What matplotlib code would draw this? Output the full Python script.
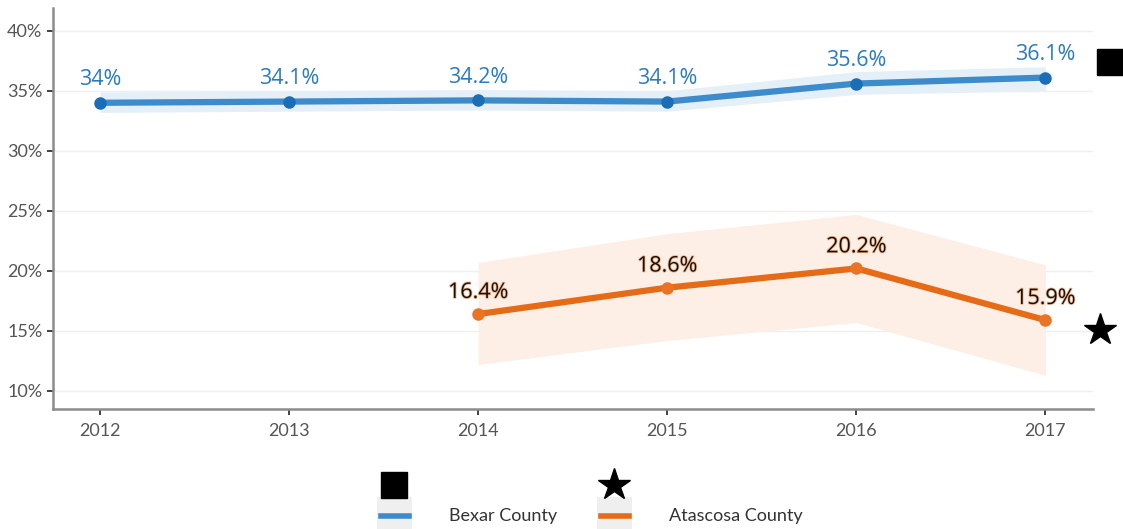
import matplotlib.pyplot as plt
import matplotlib.patheffects as pe
from matplotlib.lines import Line2D
from matplotlib.patches import Rectangle
from matplotlib.ticker import FuncFormatter

plt.rcParams['font.family'] = ['Lato', 'DejaVu Sans']

# Data
bexar_years = [2012, 2013, 2014, 2015, 2016, 2017]
bexar_vals = [34.0, 34.1, 34.2, 34.1, 35.6, 36.1]
bexar_lo = [33.2, 33.3, 33.4, 33.3, 34.7, 35.0]
bexar_hi = [34.9, 35.0, 35.1, 35.0, 36.6, 37.0]
bexar_labels = ["34%", "34.1%", "34.2%", "34.1%", "35.6%", "36.1%"]

atas_years = [2014, 2015, 2016, 2017]
atas_vals = [16.4, 18.6, 20.2, 15.9]
atas_lo = [12.2, 14.2, 15.7, 11.3]
atas_hi = [20.7, 23.1, 24.7, 20.5]
atas_labels = ["16.4%", "18.6%", "20.2%", "15.9%"]

y_ticks = [10, 15, 20, 25, 30, 35, 40]
bexar_marker_y = 37.4
atas_marker_y = 15.1

blue_line = "#3d8bcb"
blue_dot = "#1b6db5"
blue_text = "#2b7ac0"
blue_band = "#e4eff8"
orange_line = "#e56b17"
orange_dot = "#ea7425"
orange_band = "#fdeee6"

fig = plt.figure(figsize=(11.23, 5.29), dpi=100)
ax = fig.add_axes([0.047, 0.227, 0.926, 0.758])

# Bexar County
ax.fill_between(bexar_years, bexar_lo, bexar_hi, color=blue_band, lw=0, zorder=1)
ax.plot(bexar_years, bexar_vals, color=blue_line, lw=4.5, zorder=3, solid_capstyle='butt')
ax.plot(bexar_years, bexar_vals, 'o', color=blue_dot, ms=8, zorder=4)
for x, y, t in zip(bexar_years, bexar_vals, bexar_labels):
    ax.annotate(t, (x, y), xytext=(0, 9), textcoords='offset points',
                ha='center', va='bottom', fontsize=15.5, color=blue_text, zorder=5,
                family=['Open Sans', 'DejaVu Sans'])

# Atascosa County
ax.fill_between(atas_years, atas_lo, atas_hi, color=orange_band, lw=0, zorder=1)
ax.plot(atas_years, atas_vals, color=orange_line, lw=4.5, zorder=3, solid_capstyle='butt')
ax.plot(atas_years, atas_vals, 'o', color=orange_dot, ms=8, zorder=4)
for x, y, t in zip(atas_years, atas_vals, atas_labels):
    ax.annotate(t, (x, y), xytext=(0, 8), textcoords='offset points',
                ha='center', va='bottom', fontsize=15.5, color='#111111', zorder=5,
                family=['Open Sans', 'DejaVu Sans'],
                path_effects=[pe.withStroke(linewidth=1.2, foreground='#f5b486')])

# shape markers to the right of the last point
ax.plot([2017.34], [bexar_marker_y], 's', color='black', ms=19, clip_on=False)
ax.plot([2017.29], [atas_marker_y], '*', color='black', ms=24, clip_on=False)

ax.set_xlim(2011.75, 2017.25)
ax.set_ylim(8.5, 41.9)
ax.set_xticks(bexar_years)
ax.set_yticks(y_ticks)
ax.yaxis.set_major_formatter(FuncFormatter(lambda v, p: f"{v:.0f}%"))
ax.grid(axis='y', color='#efefef', lw=1)
ax.set_axisbelow(True)
for s in ['top', 'right']:
    ax.spines[s].set_visible(False)
for s in ['left', 'bottom']:
    ax.spines[s].set_color('#8c8c8c')
    ax.spines[s].set_linewidth(1.8)
ax.tick_params(axis='both', length=4, width=1.3, color='#333333',
               labelsize=13, labelcolor='#555555')
ax.tick_params(axis='x', pad=6)

# legend at the bottom
legend_items = [("Bexar County", blue_line, 's', 0.349),
                ("Atascosa County", orange_line, '*', 0.545)]
for name, col, mk, x0 in legend_items:
    fig.patches.append(Rectangle((x0 - 0.013, 0.0), 0.031, 0.06, transform=fig.transFigure,
                                 facecolor='#efefef', edgecolor='none'))
    fig.lines.append(Line2D([x0 - 0.010, x0 + 0.015], [0.024, 0.024], transform=fig.transFigure,
                            color=col, lw=4))
    fig.lines.append(Line2D([x0 + 0.002], [0.083], transform=fig.transFigure,
                            marker=mk, color='black', ms=19 if mk == 's' else 24, lw=0))
    fig.text(x0 + 0.051, 0.024, name, fontsize=13, color='#333333', va='center', ha='left')

fig.savefig('out.png', dpi=100)
